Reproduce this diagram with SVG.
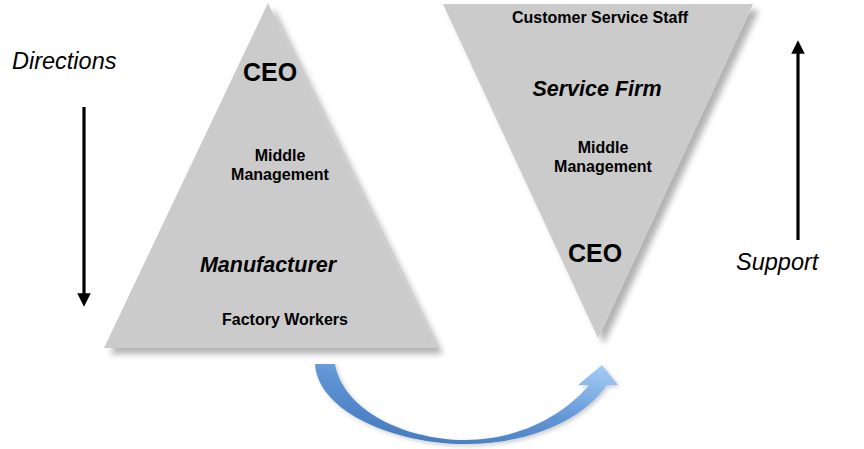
<svg xmlns="http://www.w3.org/2000/svg" width="864" height="449" viewBox="0 0 864 449">
<defs>
<style>
.tri{fill:#cbcbcb;filter:url(#sh);}
.t{font-family:"Liberation Sans",Arial,sans-serif;fill:#000;text-anchor:middle;font-weight:bold;}
.s{font-size:16px;}
.b{font-size:25px;}
.bi{font-size:21.5px;font-style:italic;}
.lab{font-family:"Liberation Sans",Arial,sans-serif;font-size:23.5px;font-style:italic;fill:#000;}
.ar{stroke:#000;stroke-width:3.2;fill:none;}
</style>
<filter id="sh" x="-10%" y="-10%" width="130%" height="130%">
<feDropShadow dx="6" dy="6" stdDeviation="3" flood-color="#000" flood-opacity="0.3"/>
</filter>
<filter id="sh2" x="-10%" y="-10%" width="130%" height="140%">
<feDropShadow dx="2" dy="2" stdDeviation="2" flood-color="#000" flood-opacity="0.2"/>
</filter>
<linearGradient id="bg" x1="0.2" y1="1" x2="0.95" y2="0">
<stop offset="0" stop-color="#4277bd"/>
<stop offset="0.5" stop-color="#6196d6"/>
<stop offset="1" stop-color="#a8cdf6"/>
</linearGradient>
<marker id="ah" viewBox="0 0 10 10" refX="5" refY="5" markerWidth="4.2" markerHeight="4.2" orient="auto">
<path d="M0,0 L10,5 L0,10 Z" fill="#000"/>
</marker>
</defs>
<rect width="864" height="449" fill="#fff"/>
<g id="manufacturer">
<polygon class="tri" points="268,3 437,348 104,348"/>
<text class="t b" x="270" y="81">CEO</text>
<text class="t s" x="280" y="161">Middle</text>
<text class="t s" x="280" y="180">Management</text>
<text class="t bi" x="268" y="272">Manufacturer</text>
<text class="t s" x="285" y="325">Factory Workers</text>
</g>
<g id="service-firm">
<polygon class="tri" points="443,4 753,4 598,338"/>
<text class="t s" x="600" y="23">Customer Service Staff</text>
<text class="t bi" x="597" y="96">Service Firm</text>
<text class="t s" x="603" y="153">Middle</text>
<text class="t s" x="603" y="172">Management</text>
<text class="t b" x="595" y="262">CEO</text>
</g>
<g id="directions">
<text class="lab" x="12" y="69">Directions</text>
</g>
<g id="support">
<text class="lab" x="736" y="270">Support</text>
</g>
<g id="connectors">
<line class="ar" x1="84" y1="107" x2="84" y2="300" marker-end="url(#ah)"/>
<line class="ar" x1="798" y1="240" x2="798" y2="47" marker-end="url(#ah)"/>
<path d="M315,364 C318,412 395,444 465,444 C530,444 583,420 607,385 L618,385 L602,365 L578,385 L589,385 C565,414 520,440 465,440 C405,440 343,410 335,364 Z" fill="url(#bg)" filter="url(#sh2)"/>
</g>
</svg>
